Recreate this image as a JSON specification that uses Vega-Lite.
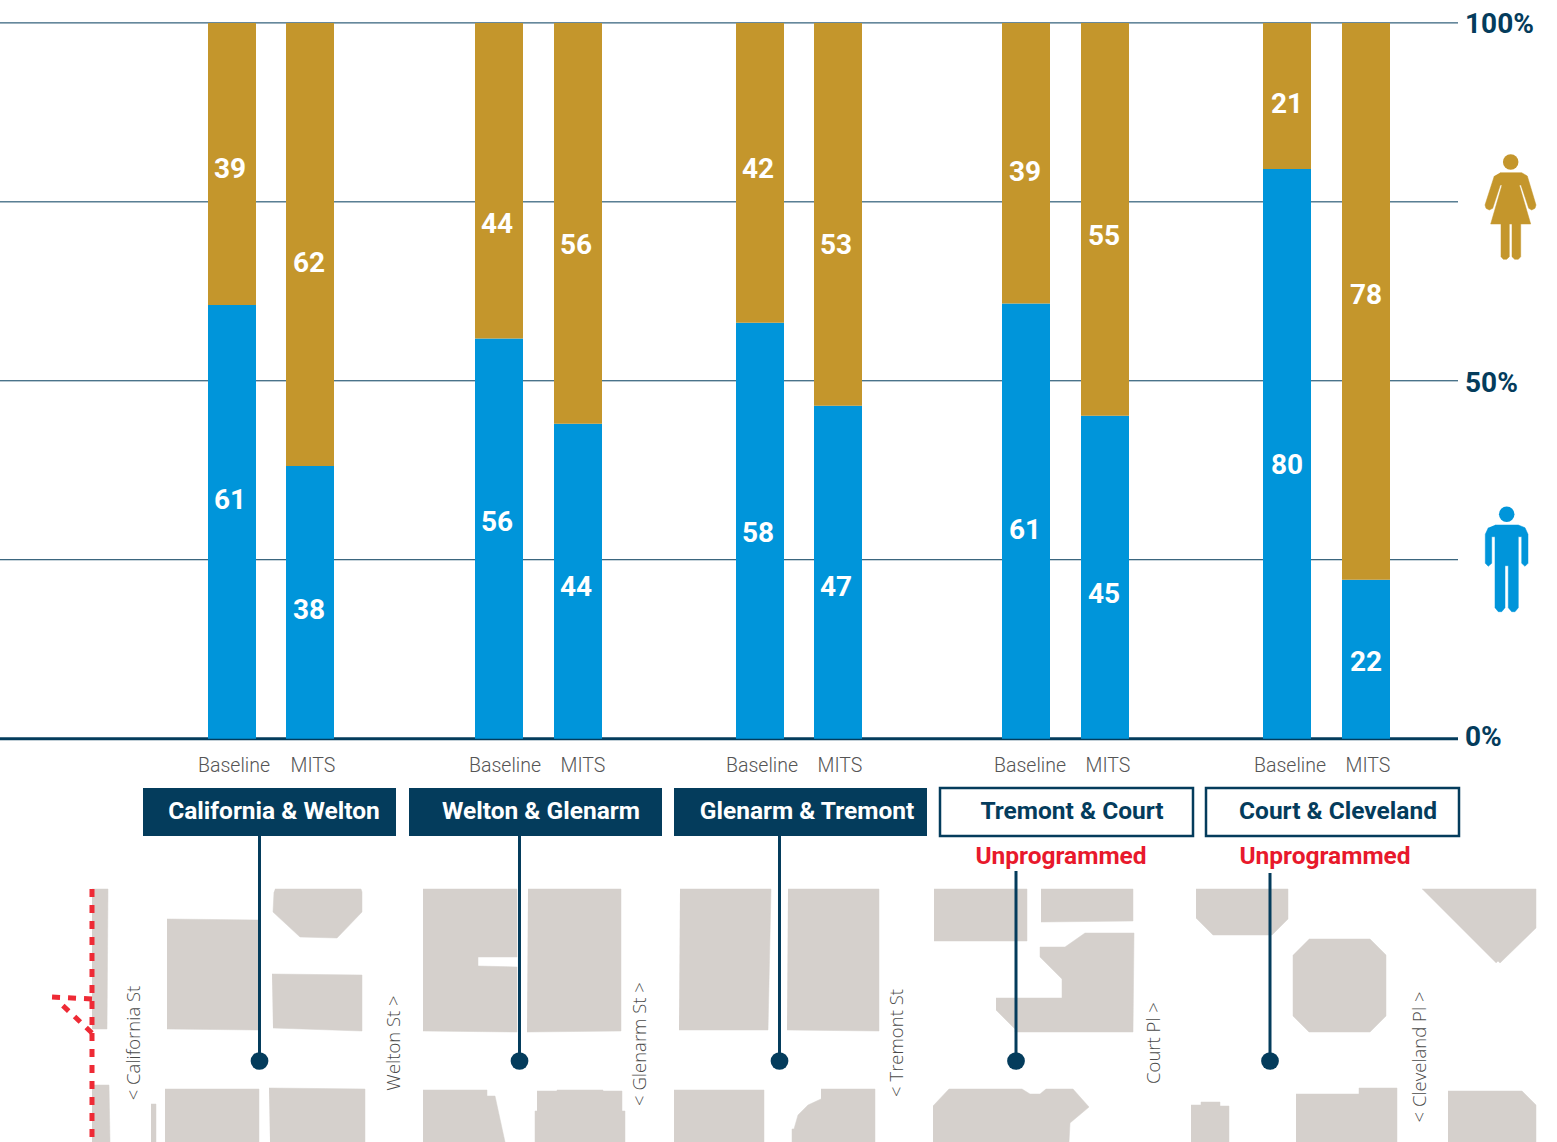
{
"$schema":"https://vega.github.io/schema/vega-lite/v6.json",
"width":1557,"height":1142,"padding":0,
"autosize":"none",
"background":"#ffffff",
"view":{"stroke":null},
"config":{"font":"Roboto","scale":{"continuousPadding":0}},
"resolve":{"scale":{"y":"independent","color":"independent"}},
"datasets":{
"blocks":[
{"s":"a","i":0,"x":92,"y":889},{"s":"a","i":1,"x":108,"y":889},{"s":"a","i":2,"x":107,"y":1029},{"s":"a","i":3,"x":92,"y":1029},
{"s":"b","i":0,"x":167,"y":919},{"s":"b","i":1,"x":259,"y":920},{"s":"b","i":2,"x":259,"y":1030},{"s":"b","i":3,"x":167,"y":1029},
{"s":"c","i":0,"x":275,"y":889},{"s":"c","i":1,"x":361,"y":889},{"s":"c","i":2,"x":362,"y":892},{"s":"c","i":3,"x":362,"y":912},{"s":"c","i":4,"x":337,"y":938},{"s":"c","i":5,"x":300,"y":937},{"s":"c","i":6,"x":273,"y":912},{"s":"c","i":7,"x":274,"y":892},
{"s":"d","i":0,"x":272,"y":974},{"s":"d","i":1,"x":362,"y":975},{"s":"d","i":2,"x":362,"y":1031},{"s":"d","i":3,"x":273,"y":1028},
{"s":"e","i":0,"x":423,"y":889},{"s":"e","i":1,"x":517,"y":889},{"s":"e","i":2,"x":517,"y":957},{"s":"e","i":3,"x":478,"y":957},{"s":"e","i":4,"x":478,"y":966},{"s":"e","i":5,"x":517,"y":967},{"s":"e","i":6,"x":517,"y":1032},{"s":"e","i":7,"x":423,"y":1031},
{"s":"f","i":0,"x":92,"y":1085},{"s":"f","i":1,"x":109,"y":1085},{"s":"f","i":2,"x":110,"y":1142},{"s":"f","i":3,"x":92,"y":1142},
{"s":"g","i":0,"x":151,"y":1104},{"s":"g","i":1,"x":156,"y":1104},{"s":"g","i":2,"x":156,"y":1142},{"s":"g","i":3,"x":151,"y":1142},
{"s":"h","i":0,"x":165,"y":1089},{"s":"h","i":1,"x":259,"y":1089},{"s":"h","i":2,"x":259,"y":1142},{"s":"h","i":3,"x":165,"y":1142},
{"s":"j","i":0,"x":269,"y":1088},{"s":"j","i":1,"x":365,"y":1089},{"s":"j","i":2,"x":365,"y":1142},{"s":"j","i":3,"x":270,"y":1142},
{"s":"k","i":0,"x":423,"y":1090},{"s":"k","i":1,"x":487,"y":1090},{"s":"k","i":2,"x":487,"y":1096},{"s":"k","i":3,"x":495,"y":1096},{"s":"k","i":4,"x":505,"y":1142},{"s":"k","i":5,"x":423,"y":1142},
{"s":"l","i":0,"x":528,"y":889},{"s":"l","i":1,"x":621,"y":889},{"s":"l","i":2,"x":621,"y":1031},{"s":"l","i":3,"x":527,"y":1032},
{"s":"m","i":0,"x":680,"y":889},{"s":"m","i":1,"x":771,"y":889},{"s":"m","i":2,"x":768,"y":1030},{"s":"m","i":3,"x":679,"y":1030},
{"s":"n","i":0,"x":788,"y":889},{"s":"n","i":1,"x":879,"y":889},{"s":"n","i":2,"x":879,"y":1031},{"s":"n","i":3,"x":787,"y":1030},
{"s":"o","i":0,"x":934,"y":889},{"s":"o","i":1,"x":1027,"y":889},{"s":"o","i":2,"x":1027,"y":941},{"s":"o","i":3,"x":934,"y":941},
{"s":"p","i":0,"x":537,"y":1091},{"s":"p","i":1,"x":557,"y":1091},{"s":"p","i":2,"x":557,"y":1090},{"s":"p","i":3,"x":603,"y":1090},{"s":"p","i":4,"x":603,"y":1091},{"s":"p","i":5,"x":622,"y":1091},{"s":"p","i":6,"x":622,"y":1111},{"s":"p","i":7,"x":625,"y":1111},{"s":"p","i":8,"x":625,"y":1142},{"s":"p","i":9,"x":535,"y":1142},{"s":"p","i":10,"x":535,"y":1111},{"s":"p","i":11,"x":537,"y":1111},
{"s":"q","i":0,"x":674,"y":1090},{"s":"q","i":1,"x":764,"y":1090},{"s":"q","i":2,"x":764,"y":1142},{"s":"q","i":3,"x":674,"y":1142},
{"s":"r","i":0,"x":821,"y":1089},{"s":"r","i":1,"x":875,"y":1089},{"s":"r","i":2,"x":875,"y":1142},{"s":"r","i":3,"x":792,"y":1142},{"s":"r","i":4,"x":792,"y":1129},{"s":"r","i":5,"x":794,"y":1129},{"s":"r","i":6,"x":798,"y":1115},{"s":"r","i":7,"x":808,"y":1105},{"s":"r","i":8,"x":821,"y":1099},
{"s":"t","i":0,"x":933,"y":1106},{"s":"t","i":1,"x":949,"y":1089},{"s":"t","i":2,"x":1022,"y":1089},{"s":"t","i":3,"x":1030,"y":1094},{"s":"t","i":4,"x":1040,"y":1094},{"s":"t","i":5,"x":1046,"y":1089},{"s":"t","i":6,"x":1073,"y":1089},{"s":"t","i":7,"x":1089,"y":1107},{"s":"t","i":8,"x":1070,"y":1123},{"s":"t","i":9,"x":1069,"y":1142},{"s":"t","i":10,"x":933,"y":1142},
{"s":"u","i":0,"x":1041,"y":889},{"s":"u","i":1,"x":1133,"y":889},{"s":"u","i":2,"x":1133,"y":921},{"s":"u","i":3,"x":1041,"y":922},
{"s":"v","i":0,"x":996,"y":998},{"s":"v","i":1,"x":1062,"y":998},{"s":"v","i":2,"x":1062,"y":979},{"s":"v","i":3,"x":1040,"y":957},{"s":"v","i":4,"x":1040,"y":947},{"s":"v","i":5,"x":1065,"y":947},{"s":"v","i":6,"x":1085,"y":933},{"s":"v","i":7,"x":1134,"y":933},{"s":"v","i":8,"x":1133,"y":1032},{"s":"v","i":9,"x":1015,"y":1032},{"s":"v","i":10,"x":1015,"y":1029},{"s":"v","i":11,"x":996,"y":1010},
{"s":"w","i":0,"x":1196,"y":889},{"s":"w","i":1,"x":1288,"y":889},{"s":"w","i":2,"x":1288,"y":919},{"s":"w","i":3,"x":1272,"y":935},{"s":"w","i":4,"x":1213,"y":935},{"s":"w","i":5,"x":1196,"y":918},
{"s":"z","i":0,"x":1309,"y":939},{"s":"z","i":1,"x":1370,"y":939},{"s":"z","i":2,"x":1386,"y":955},{"s":"z","i":3,"x":1386,"y":1016},{"s":"z","i":4,"x":1370,"y":1032},{"s":"z","i":5,"x":1309,"y":1032},{"s":"z","i":6,"x":1293,"y":1016},{"s":"z","i":7,"x":1293,"y":955},
{"s":"aa","i":0,"x":1422,"y":889},{"s":"aa","i":1,"x":1536,"y":889},{"s":"aa","i":2,"x":1536,"y":928},{"s":"aa","i":3,"x":1500,"y":963},{"s":"aa","i":4,"x":1498,"y":961},{"s":"aa","i":5,"x":1496,"y":963},
{"s":"ab","i":0,"x":1191,"y":1105},{"s":"ab","i":1,"x":1201,"y":1105},{"s":"ab","i":2,"x":1201,"y":1102},{"s":"ab","i":3,"x":1220,"y":1102},{"s":"ab","i":4,"x":1220,"y":1106},{"s":"ab","i":5,"x":1229,"y":1106},{"s":"ab","i":6,"x":1229,"y":1142},{"s":"ab","i":7,"x":1191,"y":1142},
{"s":"ac","i":0,"x":1296,"y":1094},{"s":"ac","i":1,"x":1359,"y":1094},{"s":"ac","i":2,"x":1359,"y":1088},{"s":"ac","i":3,"x":1397,"y":1088},{"s":"ac","i":4,"x":1397,"y":1142},{"s":"ac","i":5,"x":1296,"y":1142},
{"s":"ad","i":0,"x":1448,"y":1091},{"s":"ad","i":1,"x":1522,"y":1091},{"s":"ad","i":2,"x":1536,"y":1105},{"s":"ad","i":3,"x":1536,"y":1142},{"s":"ad","i":4,"x":1448,"y":1142}
],
"woman":[
{"i":0,"x":1500,"y":172.7},{"i":1,"x":1521.7,"y":172.7},{"i":2,"x":1527.3,"y":176},{"i":3,"x":1536,"y":205},{"i":4,"x":1535,"y":208.3},{"i":5,"x":1531.7,"y":210},{"i":6,"x":1528.7,"y":208.3},{"i":7,"x":1521,"y":185},{"i":8,"x":1519.3,"y":185},{"i":9,"x":1530.7,"y":224},{"i":10,"x":1520.7,"y":224},{"i":11,"x":1520.7,"y":256.7},{"i":12,"x":1518.3,"y":259.3},{"i":13,"x":1514.7,"y":259.3},{"i":14,"x":1512,"y":256.7},{"i":15,"x":1512,"y":224},{"i":16,"x":1509.3,"y":224},{"i":17,"x":1509.3,"y":256.7},{"i":18,"x":1506.7,"y":259.3},{"i":19,"x":1503.3,"y":259.3},{"i":20,"x":1501,"y":256.7},{"i":21,"x":1501,"y":224},{"i":22,"x":1490.7,"y":224},{"i":23,"x":1502,"y":185},{"i":24,"x":1500.3,"y":185},{"i":25,"x":1492.7,"y":208.3},{"i":26,"x":1489.3,"y":210},{"i":27,"x":1486,"y":208.3},{"i":28,"x":1485,"y":205},{"i":29,"x":1494.3,"y":176}
],
"man":[
{"i":0,"x":1495,"y":525},{"i":1,"x":1518.3,"y":525},{"i":2,"x":1525,"y":527.7},{"i":3,"x":1528,"y":534.3},{"i":4,"x":1528,"y":563.3},{"i":5,"x":1525,"y":566.3},{"i":6,"x":1521.7,"y":563.3},{"i":7,"x":1521.7,"y":536.7},{"i":8,"x":1518.3,"y":536.7},{"i":9,"x":1518.3,"y":607.7},{"i":10,"x":1515,"y":611.7},{"i":11,"x":1511.7,"y":611.7},{"i":12,"x":1508.3,"y":607.7},{"i":13,"x":1508.3,"y":565.7},{"i":14,"x":1505,"y":565.7},{"i":15,"x":1505,"y":607.7},{"i":16,"x":1501.7,"y":611.7},{"i":17,"x":1498.3,"y":611.7},{"i":18,"x":1495,"y":607.7},{"i":19,"x":1495,"y":536.7},{"i":20,"x":1491.7,"y":536.7},{"i":21,"x":1491.7,"y":563.3},{"i":22,"x":1488.3,"y":566.3},{"i":23,"x":1485.3,"y":563.3},{"i":24,"x":1485.3,"y":534.3},{"i":25,"x":1488.3,"y":527.7}
],
"bars":[
{"site":"California & Welton","period":"Baseline","gender":"Men","pos":232,"low":0,"high":60.6,"label":"61","lx":230,"ly":499},
{"site":"California & Welton","period":"Baseline","gender":"Women","pos":232,"low":60.6,"high":100,"label":"39","lx":230,"ly":168},
{"site":"California & Welton","period":"MITS","gender":"Men","pos":310,"low":0,"high":38.1,"label":"38","lx":309,"ly":609},
{"site":"California & Welton","period":"MITS","gender":"Women","pos":310,"low":38.1,"high":100,"label":"62","lx":309,"ly":262},
{"site":"Welton & Glenarm","period":"Baseline","gender":"Men","pos":499,"low":0,"high":55.9,"label":"56","lx":497,"ly":521},
{"site":"Welton & Glenarm","period":"Baseline","gender":"Women","pos":499,"low":55.9,"high":100,"label":"44","lx":497,"ly":223},
{"site":"Welton & Glenarm","period":"MITS","gender":"Men","pos":578,"low":0,"high":44,"label":"44","lx":576,"ly":586},
{"site":"Welton & Glenarm","period":"MITS","gender":"Women","pos":578,"low":44,"high":100,"label":"56","lx":576,"ly":244},
{"site":"Glenarm & Tremont","period":"Baseline","gender":"Men","pos":760,"low":0,"high":58.1,"label":"58","lx":758,"ly":532},
{"site":"Glenarm & Tremont","period":"Baseline","gender":"Women","pos":760,"low":58.1,"high":100,"label":"42","lx":758,"ly":168},
{"site":"Glenarm & Tremont","period":"MITS","gender":"Men","pos":838,"low":0,"high":46.5,"label":"47","lx":836,"ly":586},
{"site":"Glenarm & Tremont","period":"MITS","gender":"Women","pos":838,"low":46.5,"high":100,"label":"53","lx":836,"ly":244},
{"site":"Tremont & Court","period":"Baseline","gender":"Men","pos":1026,"low":0,"high":60.8,"label":"61","lx":1025,"ly":529},
{"site":"Tremont & Court","period":"Baseline","gender":"Women","pos":1026,"low":60.8,"high":100,"label":"39","lx":1025,"ly":171},
{"site":"Tremont & Court","period":"MITS","gender":"Men","pos":1105,"low":0,"high":45.1,"label":"45","lx":1104,"ly":593},
{"site":"Tremont & Court","period":"MITS","gender":"Women","pos":1105,"low":45.1,"high":100,"label":"55","lx":1104,"ly":235},
{"site":"Court & Cleveland","period":"Baseline","gender":"Men","pos":1287,"low":0,"high":79.6,"label":"80","lx":1287,"ly":464},
{"site":"Court & Cleveland","period":"Baseline","gender":"Women","pos":1287,"low":79.6,"high":100,"label":"21","lx":1287,"ly":103},
{"site":"Court & Cleveland","period":"MITS","gender":"Men","pos":1366,"low":0,"high":22.2,"label":"22","lx":1366,"ly":661},
{"site":"Court & Cleveland","period":"MITS","gender":"Women","pos":1366,"low":22.2,"high":100,"label":"78","lx":1366,"ly":294}
],
"sites":[
{"site":"California & Welton","x0":143,"x1":396,"tx":274,"dot":259.5,"top":836,"programmed":true},
{"site":"Welton & Glenarm","x0":409,"x1":662,"tx":541,"dot":519.5,"top":836,"programmed":true},
{"site":"Glenarm & Tremont","x0":674,"x1":927,"tx":807,"dot":779.5,"top":836,"programmed":true},
{"site":"Tremont & Court","x0":940,"x1":1193,"tx":1072,"dot":1016,"top":871,"programmed":false,"ux":1061},
{"site":"Court & Cleveland","x0":1206,"x1":1459,"tx":1338,"dot":1270,"top":873,"programmed":false,"ux":1325}
]
},
"layer":[
{"data":{"name":"blocks"},"mark":{"type":"line","fill":"#d5d0cc","stroke":"#d5d0cc","strokeWidth":0.5},
 "encoding":{"x":{"field":"x","type":"quantitative","scale":{"domain":[0,1557],"nice":false,"zero":false,"padding":0},"axis":null},
 "y":{"field":"y","type":"quantitative","scale":{"domain":[1142,0],"nice":false,"zero":false},"axis":null},
 "detail":{"field":"s"},"order":{"field":"i"}}},
{"data":{"values":[{"gl":25,"x":0},{"gl":50,"x":0},{"gl":75,"x":0},{"gl":100,"x":0}]},
 "mark":{"type":"rule","color":"#043c5c","strokeWidth":1},
 "encoding":{"x":{"field":"x","type":"quantitative","axis":null},"x2":{"datum":1458},
 "y":{"field":"gl","type":"quantitative","scale":{"domain":[-56.35,103.2],"nice":false,"zero":false},"axis":null}}},
{"data":{"values":[{"gl":0,"x":0}]},
 "mark":{"type":"rule","color":"#043c5c","strokeWidth":3},
 "encoding":{"x":{"field":"x","type":"quantitative","axis":null},"x2":{"datum":1458},
 "y":{"field":"gl","type":"quantitative","scale":{"domain":[-56.35,103.2],"nice":false,"zero":false},"axis":null}}},
{"data":{"name":"bars"},"mark":{"type":"bar","size":48},
 "encoding":{"x":{"field":"pos","type":"quantitative","axis":null},
 "y":{"field":"low","type":"quantitative","scale":{"domain":[-56.35,103.2],"nice":false,"zero":false},"axis":null},
 "y2":{"field":"high"},
 "color":{"field":"gender","type":"nominal","legend":null,"scale":{"domain":["Men","Women"],"range":["#0095da","#c4962c"]}}}},
{"data":{"name":"bars"},"mark":{"type":"text","color":"#ffffff","fontWeight":"bold","fontSize":28,"baseline":"middle","align":"center","dy":2},
 "encoding":{"x":{"field":"lx","type":"quantitative","axis":null},
 "y":{"field":"ly","type":"quantitative","scale":{"domain":[1142,0],"nice":false,"zero":false},"axis":null},
 "text":{"field":"label"}}},
{"data":{"values":[{"t":"100%","x":1465,"y":25},{"t":"50%","x":1465,"y":384},{"t":"0%","x":1465,"y":738}]},
 "mark":{"type":"text","color":"#043c5c","fontWeight":"bold","fontSize":28,"baseline":"middle","align":"left"},
 "encoding":{"x":{"field":"x","type":"quantitative","axis":null},
 "y":{"field":"y","type":"quantitative","scale":{"domain":[1142,0],"nice":false,"zero":false},"axis":null},
 "text":{"field":"t"}}},
{"data":{"values":[
 {"t":"Baseline","x":234,"y":766},{"t":"MITS","x":313,"y":766},{"t":"Baseline","x":505,"y":766},{"t":"MITS","x":583,"y":766},{"t":"Baseline","x":762,"y":766},{"t":"MITS","x":840,"y":766},{"t":"Baseline","x":1030,"y":766},{"t":"MITS","x":1108,"y":766},{"t":"Baseline","x":1290,"y":766},{"t":"MITS","x":1368,"y":766}]},
 "mark":{"type":"text","color":"#555555","fontWeight":300,"fontSize":19.5,"baseline":"middle","align":"center"},
 "encoding":{"x":{"field":"x","type":"quantitative","axis":null},
 "y":{"field":"y","type":"quantitative","scale":{"domain":[1142,0],"nice":false,"zero":false},"axis":null},
 "text":{"field":"t"}}},
{"data":{"name":"sites"},"transform":[{"filter":"datum.programmed"}],
 "mark":{"type":"rect","color":"#043c5c"},
 "encoding":{"x":{"field":"x0","type":"quantitative","axis":null},"x2":{"field":"x1"},
 "y":{"datum":788,"type":"quantitative","scale":{"domain":[1142,0],"nice":false,"zero":false},"axis":null},"y2":{"datum":836}}},
{"data":{"name":"sites"},"transform":[{"filter":"!datum.programmed"}],
 "mark":{"type":"rect","fill":"#ffffff","stroke":"#043c5c","strokeWidth":2.5},
 "encoding":{"x":{"field":"x0","type":"quantitative","axis":null},"x2":{"field":"x1"},
 "y":{"datum":788,"type":"quantitative","scale":{"domain":[1142,0],"nice":false,"zero":false},"axis":null},"y2":{"datum":836}}},
{"data":{"name":"sites"},"transform":[{"filter":"datum.programmed"}],
 "mark":{"type":"text","color":"#ffffff","fontWeight":"bold","fontSize":24.5,"baseline":"middle","align":"center"},
 "encoding":{"x":{"field":"tx","type":"quantitative","axis":null},
 "y":{"datum":812,"type":"quantitative","scale":{"domain":[1142,0],"nice":false,"zero":false},"axis":null},
 "text":{"field":"site"}}},
{"data":{"name":"sites"},"transform":[{"filter":"!datum.programmed"}],
 "mark":{"type":"text","color":"#043c5c","fontWeight":"bold","fontSize":24.5,"baseline":"middle","align":"center"},
 "encoding":{"x":{"field":"tx","type":"quantitative","axis":null},
 "y":{"datum":812,"type":"quantitative","scale":{"domain":[1142,0],"nice":false,"zero":false},"axis":null},
 "text":{"field":"site"}}},
{"data":{"values":[{"t":"Unprogrammed","x":1061},{"t":"Unprogrammed","x":1325}]},
 "mark":{"type":"text","color":"#e8192c","fontWeight":"bold","fontSize":24.5,"baseline":"middle","align":"center"},
 "encoding":{"x":{"field":"x","type":"quantitative","axis":null},
 "y":{"datum":857,"type":"quantitative","scale":{"domain":[1142,0],"nice":false,"zero":false},"axis":null},
 "text":{"field":"t"}}},
{"data":{"values":[
 {"s":"v","i":0,"x":92,"y":889},{"s":"v","i":1,"x":92,"y":1142},
 {"s":"h","i":0,"x":92,"y":999},{"s":"h","i":1,"x":50,"y":997},
 {"s":"d","i":0,"x":92,"y":1033},{"s":"d","i":1,"x":58,"y":1001}]},
 "mark":{"type":"line","color":"#ee2a35","strokeWidth":5,"strokeDash":[8,8]},
 "encoding":{"x":{"field":"x","type":"quantitative","axis":null},
 "y":{"field":"y","type":"quantitative","scale":{"domain":[1142,0],"nice":false,"zero":false},"axis":null},
 "detail":{"field":"s"},"order":{"field":"i"}}},
{"data":{"name":"sites"},
 "mark":{"type":"rule","color":"#043c5c","strokeWidth":3},
 "encoding":{"x":{"field":"dot","type":"quantitative","axis":null},
 "y":{"field":"top","type":"quantitative","scale":{"domain":[1142,0],"nice":false,"zero":false},"axis":null},"y2":{"datum":1061}}},
{"data":{"name":"sites"},
 "mark":{"type":"point","filled":true,"opacity":1,"color":"#043c5c","size":314,"shape":"circle"},
 "encoding":{"x":{"field":"dot","type":"quantitative","axis":null},
 "y":{"datum":1061,"type":"quantitative","scale":{"domain":[1142,0],"nice":false,"zero":false},"axis":null}}},
{"data":{"values":[
 {"t":"< California St","x":134,"y":1043},{"t":"Welton St >","x":394,"y":1043},{"t":"< Glenarm St >","x":640,"y":1044},{"t":"< Tremont St","x":897,"y":1043},{"t":"Court Pl >","x":1154,"y":1043},{"t":"< Cleveland Pl >","x":1420,"y":1057}]},
 "mark":{"type":"text","color":"#4a4a4a","font":"Open Sans","fontWeight":300,"fontSize":18.5,"baseline":"middle","align":"center","angle":270},
 "encoding":{"x":{"field":"x","type":"quantitative","axis":null},
 "y":{"field":"y","type":"quantitative","scale":{"domain":[1142,0],"nice":false,"zero":false},"axis":null},
 "text":{"field":"t"}}},
{"data":{"name":"woman"},"mark":{"type":"line","fill":"#c4962c","stroke":"#c4962c","strokeWidth":0.5},
 "encoding":{"x":{"field":"x","type":"quantitative","axis":null},
 "y":{"field":"y","type":"quantitative","scale":{"domain":[1142,0],"nice":false,"zero":false},"axis":null},"order":{"field":"i"}}},
{"data":{"name":"man"},"mark":{"type":"line","fill":"#0095da","stroke":"#0095da","strokeWidth":0.5},
 "encoding":{"x":{"field":"x","type":"quantitative","axis":null},
 "y":{"field":"y","type":"quantitative","scale":{"domain":[1142,0],"nice":false,"zero":false},"axis":null},"order":{"field":"i"}}},
{"data":{"values":[{"x":1510.7,"y":162,"who":"Women"},{"x":1506.7,"y":514.3,"who":"Men"}]},
 "mark":{"type":"point","filled":true,"opacity":1,"size":240,"shape":"circle"},
 "encoding":{"x":{"field":"x","type":"quantitative","axis":null},
 "y":{"field":"y","type":"quantitative","scale":{"domain":[1142,0],"nice":false,"zero":false},"axis":null},
 "color":{"field":"who","type":"nominal","legend":null,"scale":{"domain":["Men","Women"],"range":["#0095da","#c4962c"]}}}}
]
}
